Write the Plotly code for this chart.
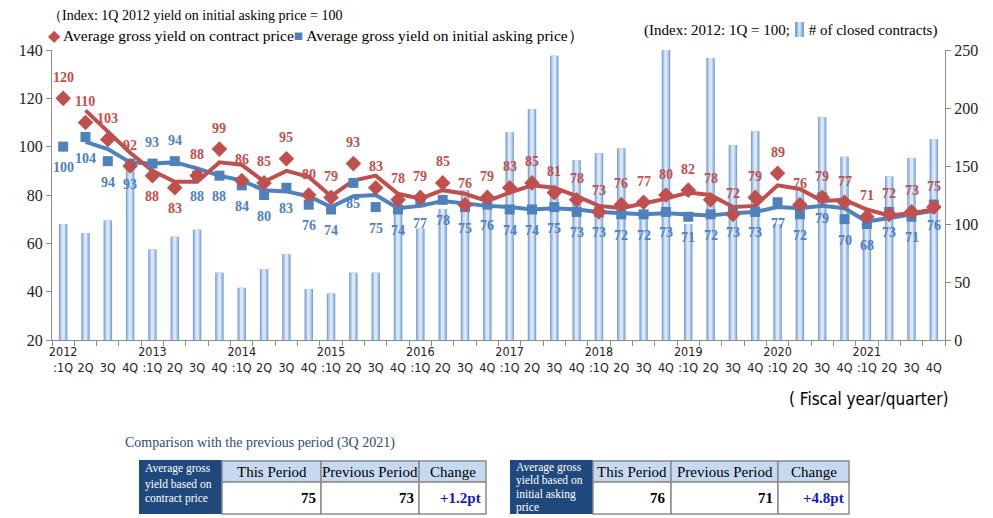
import plotly.graph_objects as go
import pandas as pd

# ---------------- data ----------------
years = ["2012", "2013", "2014", "2015", "2016", "2017", "2018", "2019", "2020", "2021"]
quarters = ["1Q", "2Q", "3Q", "4Q"]

contract_yield = [120, 110, 103, 92, 88, 83, 88, 99, 86, 85, 95, 80, 79, 93, 83, 78, 79, 85, 76, 79,
                  83, 85, 81, 78, 73, 76, 77, 80, 82, 78, 72, 79, 89, 76, 79, 77, 71, 72, 73, 75]
asking_yield = [100, 104, 94, 93, 93, 94, 88, 88, 84, 80, 83, 76, 74, 85, 75, 74, 77, 78, 75, 76,
                74, 74, 75, 73, 73, 72, 72, 73, 71, 72, 73, 73, 77, 72, 79, 70, 68, 73, 71, 76]
contracts_index = [100, 92, 103, 148, 78, 89, 95, 58, 45, 61, 74, 44, 40, 58, 58, 112, 96, 113, 129, 115,
                   179, 199, 245, 155, 161, 165, 104, 252, 100, 243, 168, 180, 100, 129, 192, 158, 102, 141, 157, 173]

# label placement (above / below marker)
contract_label_pos = ["above"] * 40
contract_label_pos[4] = "below"
contract_label_pos[5] = "below"
asking_label_pos = ["below"] * 40
asking_label_pos[4] = "above"
asking_label_pos[5] = "above"

table_cols = ["This Period", "Previous Period", "Change"]
table1_vals = ["75", "73", "+1.2pt"]
table2_vals = ["76", "71", "+4.8pt"]

# ---------------- styles ----------------
RED = "#c0504d"
BLUE = "#4f81bd"
SERIF = "Liberation Serif, Times New Roman, serif"
NARROW = "Liberation Sans Narrow, DejaVu Sans Condensed, Arial Narrow, sans-serif"

n = len(contract_yield)
x = list(range(n))
ticktext = []
for y in years:
    for q in quarters:
        ticktext.append(f"{y}<br>:{q}" if q == "1Q" else f"<br>{q}")

# Excel 2-period moving-average trendlines of the two yield series
contract_ma = pd.Series(contract_yield).rolling(2).mean().tolist()
asking_ma = pd.Series(asking_yield).rolling(2).mean().tolist()

fig = go.Figure()

# bars (simulated gradient with three overlaid widths) on right axis (y)
for w, col in [(0.38, "#7aa3d6"), (0.28, "#a6c3e8"), (0.15, "#dbe7f7")]:
    fig.add_trace(go.Bar(x=x, y=contracts_index, width=w, marker=dict(color=col, line=dict(width=0)),
                         yaxis="y", hoverinfo="skip", showlegend=False))

# trend lines and markers on left axis (y2)
fig.add_trace(go.Scatter(x=x, y=asking_ma, mode="lines", line=dict(color=BLUE, width=4),
                         yaxis="y2", showlegend=False))
fig.add_trace(go.Scatter(x=x, y=contract_ma, mode="lines", line=dict(color=RED, width=4),
                         yaxis="y2", showlegend=False))
fig.add_trace(go.Scatter(x=x, y=asking_yield, mode="markers",
                         marker=dict(symbol="square", size=10, color=BLUE),
                         yaxis="y2", showlegend=False))
fig.add_trace(go.Scatter(x=x, y=contract_yield, mode="markers",
                         marker=dict(symbol="diamond", size=12, color=RED),
                         yaxis="y2", showlegend=False))

annotations = []
for i in range(n):
    annotations.append(dict(x=x[i], y=contract_yield[i], xref="x", yref="y2",
                            text=f"<b>{contract_yield[i]}</b>", showarrow=False,
                            yshift=21 if contract_label_pos[i] == "above" else -21,
                            font=dict(family=SERIF, size=14, color=RED)))
    annotations.append(dict(x=x[i], y=asking_yield[i], xref="x", yref="y2",
                            text=f"<b>{asking_yield[i]}</b>", showarrow=False,
                            yshift=21 if asking_label_pos[i] == "above" else -21,
                            font=dict(family=SERIF, size=14, color=BLUE)))

# pixel -> paper helpers (plot area: x 52..945, y 50..340)
L, R, T, B = 52, 945, 50, 340
def px(v):
    return (v - L) / (R - L)
def py(v):
    return (B - v) / (B - T)

def txt(xp, yp, text, size=15, family=SERIF, color="#000", xanchor="left", yanchor="middle", align="left"):
    annotations.append(dict(x=px(xp), y=py(yp), xref="paper", yref="paper", text=text,
                            showarrow=False, xanchor=xanchor, yanchor=yanchor, align=align,
                            font=dict(family=family, size=size, color=color)))

txt(46, 15, "（Index: 1Q 2012 yield on initial asking price = 100", size=14)
txt(46, 35, f'<span style="color:{RED}">◆</span> Average gross yield on contract price'
            f'<span style="color:{BLUE}">■</span> Average gross yield on initial asking price）', size=15.5)
txt(642, 30, "(Index: 2012: 1Q = 100;&nbsp;&nbsp;&nbsp;&nbsp;&nbsp;# of closed contracts)", size=15)
txt(950, 399, "( Fiscal year/quarter)", size=17, family=NARROW, xanchor="right")
txt(123, 443, "Comparison with the previous period (3Q 2021)", size=14, color="#2f4a6d")

shapes = []
# legend icon for the bars
for x0, x1, col in [(795, 804, "#7aa3d6"), (797, 802, "#a6c3e8"), (798.5, 800.5, "#dbe7f7")]:
    shapes.append(dict(type="rect", xref="paper", yref="paper", x0=px(x0), x1=px(x1),
                       y0=py(37), y1=py(22), fillcolor=col, line=dict(width=0)))

def table(dx0, dx1, col_edges, label_lines, vals):
    # dark label cell
    shapes.append(dict(type="rect", xref="paper", yref="paper", x0=px(dx0), x1=px(dx1),
                       y0=py(514), y1=py(460), fillcolor="#1f497d", line=dict(width=0)))
    n_lines = len(label_lines)
    top = 461 if n_lines == 4 else 463
    step = 13.5 if n_lines == 4 else 15
    for k, line in enumerate(label_lines):
        txt(dx0 + 4, top + step * k + 6, line, size=11.5, color="#ffffff")
    for k in range(len(col_edges) - 1):
        a, b = col_edges[k], col_edges[k + 1]
        shapes.append(dict(type="rect", xref="paper", yref="paper", x0=px(a), x1=px(b),
                           y0=py(482), y1=py(461), fillcolor="#c6d9f1",
                           line=dict(color="#8c8c8c", width=1.5)))
        shapes.append(dict(type="rect", xref="paper", yref="paper", x0=px(a), x1=px(b),
                           y0=py(514), y1=py(482), fillcolor="#ffffff",
                           line=dict(color="#8c8c8c", width=1.5)))
        txt((a + b) / 2, 472, table_cols[k], size=15, xanchor="center")
        color = "#1414c8" if k == 2 else "#000"
        txt(b - 3, 498, f"<b>{vals[k]}</b>", size=15, color=color, xanchor="right")

table(139, 222, [222, 321, 419, 486],
      ["Average gross", "yield based on", "contract price"], table1_vals)
table(510, 593, [593, 671, 778, 849],
      ["Average gross", "yield based on", "initial asking", "price"], table2_vals)

fig.update_layout(
    width=993, height=518,
    margin=dict(l=L, r=993 - R, t=T, b=518 - B, autoexpand=False),
    paper_bgcolor="white", plot_bgcolor="white",
    barmode="overlay",
    showlegend=False,
    xaxis=dict(range=[-0.5, n - 0.5], tickmode="array", tickvals=x, ticktext=ticktext,
               ticks="", tickangle=0, showgrid=False, zeroline=False,
               showline=True, linecolor="#8c8c8c", linewidth=1.2,
               tickfont=dict(family=NARROW, size=12.5, color="#222"),
               minor=dict(tick0=-0.5, dtick=1, ticks="outside", ticklen=5, tickcolor="#8c8c8c", showgrid=False)),
    yaxis=dict(side="right", range=[0, 250], dtick=50, showgrid=False, zeroline=False,
               showline=True, linecolor="#8c8c8c", linewidth=1.2, ticks="outside", ticklen=5,
               tickcolor="#8c8c8c", tickfont=dict(family=SERIF, size=16, color="#222")),
    yaxis2=dict(side="left", overlaying="y", range=[20, 140], dtick=20, showgrid=False, zeroline=False,
                showline=True, linecolor="#8c8c8c", linewidth=1.2, ticks="outside", ticklen=5,
                tickcolor="#8c8c8c", tickfont=dict(family=SERIF, size=16, color="#222")),
    annotations=annotations,
    shapes=shapes,
)

fig.write_html("out.html", config={"displayModeBar": False},
               post_script="document.body.style.margin='0px';")
